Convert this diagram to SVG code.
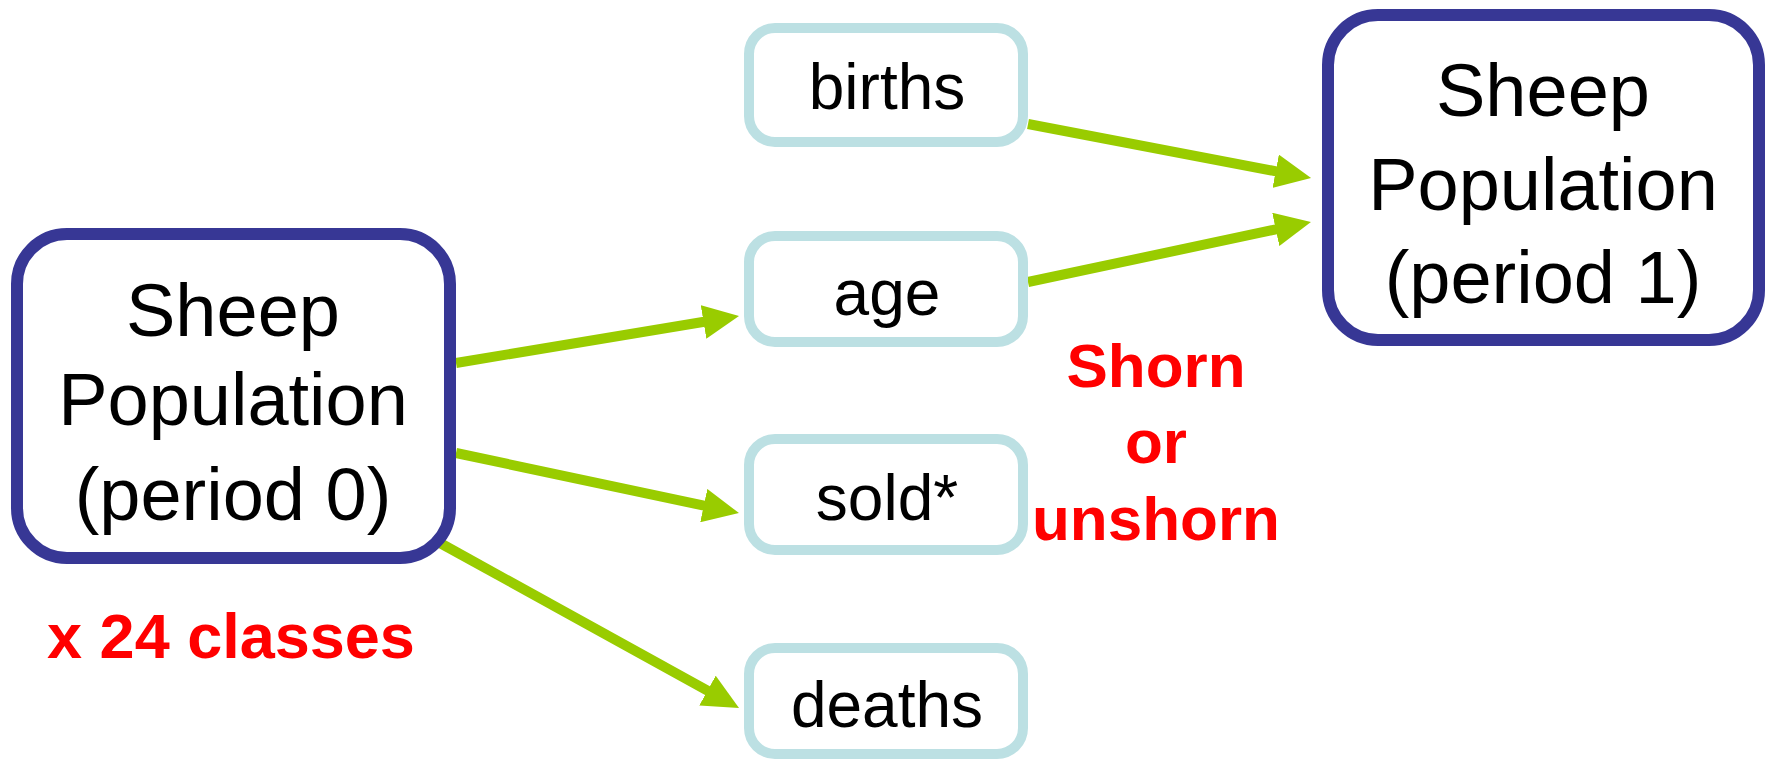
<svg xmlns="http://www.w3.org/2000/svg" width="1767" height="762" viewBox="0 0 1767 762">
<style>
.big{fill:#fff;stroke:#373795;stroke-width:12}
.small{fill:#fff;stroke:#BCE0E3;stroke-width:10}
.bt{font-family:"Liberation Sans",Arial,sans-serif;font-size:74px;fill:#000;text-anchor:middle}
.st{font-family:"Liberation Sans",Arial,sans-serif;font-size:64px;fill:#000;text-anchor:middle}
.rt{font-family:"Liberation Sans",Arial,sans-serif;font-weight:bold;font-size:62px;fill:#FF0000;text-anchor:middle}
.conn{stroke:#99CC00;stroke-width:10;fill:none;marker-end:url(#ah)}
</style>
<defs>
<marker id="ah" markerUnits="userSpaceOnUse" markerWidth="36" markerHeight="34" refX="16" refY="17" orient="auto" viewBox="0 0 36 34">
<path d="M0,0 L36,17 L0,34 z" fill="#99CC00"/>
</marker>
</defs>
<rect width="1767" height="762" fill="#fff"/>
<g id="connectors">
<line class="conn" x1="456" y1="363" x2="719.3" y2="319.3"/>
<line class="conn" x1="456" y1="453" x2="719.4" y2="508.9"/>
<line class="conn" x1="440" y1="543" x2="721.5" y2="698.3"/>
<line class="conn" x1="1028" y1="124" x2="1291.4" y2="174.3"/>
<line class="conn" x1="1028" y1="282" x2="1291.4" y2="226.1"/>
</g>
<g id="pop0">
<rect class="big" x="17" y="234" width="433" height="324" rx="50"/>
<text class="bt" x="233" y="336">Sheep</text>
<text class="bt" x="233" y="425">Population</text>
<text class="bt" x="233" y="520">(period 0)</text>
</g>
<g id="pop1">
<rect class="big" x="1328" y="15" width="431" height="325" rx="50"/>
<text class="bt" x="1543" y="116">Sheep</text>
<text class="bt" x="1543" y="210">Population</text>
<text class="bt" x="1543" y="303">(period 1)</text>
</g>
<g id="births">
<rect class="small" x="749" y="28" width="274" height="114" rx="26"/>
<text class="st" x="887" y="109">births</text>
</g>
<g id="age">
<rect class="small" x="749" y="236" width="274" height="106" rx="26"/>
<text class="st" x="887" y="315">age</text>
</g>
<g id="sold">
<rect class="small" x="749" y="439" width="274" height="111" rx="26"/>
<text class="st" x="887" y="520">sold*</text>
</g>
<g id="deaths">
<rect class="small" x="749" y="648" width="274" height="106" rx="26"/>
<text class="st" x="887" y="727">deaths</text>
</g>
<g id="labels">
<text class="rt" x="1156" y="387">Shorn</text>
<text class="rt" x="1156" y="463">or</text>
<text class="rt" x="1156" y="540">unshorn</text>
<text class="rt" x="231" y="658" style="font-size:63px">x 24 classes</text>
</g>
</svg>
